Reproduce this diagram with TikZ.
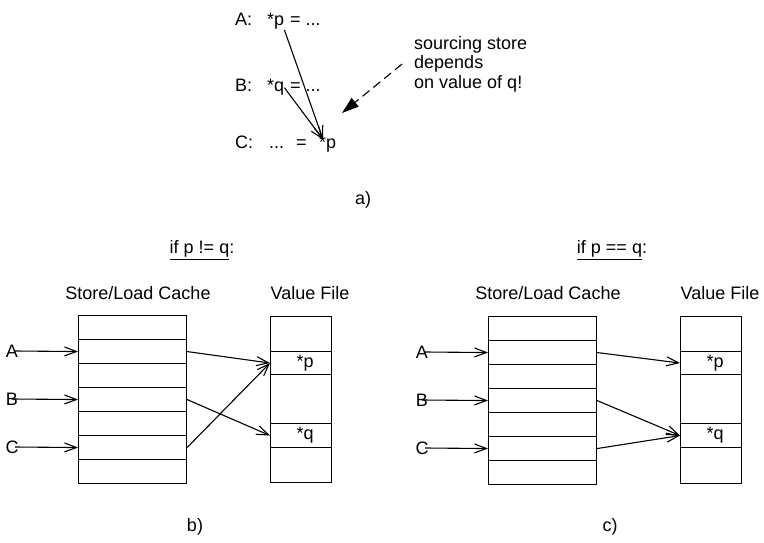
\documentclass[tikz,border=0pt]{standalone}
\usepackage{fontspec}
\setmainfont{Liberation Sans}
\usetikzlibrary{arrows.meta}
\begin{document}
\begin{tikzpicture}[x=1pt,y=-1pt,
  every node/.style={font=\fontsize{18}{19.5}\selectfont, inner sep=0pt},
  cell/.style={draw, line width=1.1pt, minimum width=108pt, minimum height=24pt, anchor=north west, inner sep=0pt},
  vcell/.style={draw, line width=1.1pt, minimum width=61pt, minimum height=#1, anchor=north west, inner sep=0pt},
  arr/.style={line width=1.1pt, -{Straight Barb[length=12pt,width=9pt,line width=1.1pt]}},
  dasharr/.style={line width=1.1pt, dash pattern=on 9pt off 5pt, -{Triangle[length=17pt,width=11pt]}},
  txt/.style={anchor=base west}
]
\useasboundingbox (0,0) rectangle (764,543);

% ---------- panel a ----------
\node[txt] (tA)  at (235,26) {A:};
\node[txt] (tAp) at (267,26) {*p};
\node[txt] (tAe) at (290,26) {= ...};
\node[txt] (tB)  at (235,92) {B:};
\node[txt] (tBq) at (267,92) {*q};
\node[txt] (tBe) at (290,92) {= ...};
\node[txt] (tC)  at (235,149) {C:};
\node[txt] (tCd) at (269,149) {...};
\node[txt] (tCe) at (296,149) {=};
\node[txt] (tCp) at (319,149) {*p};
\draw[arr] (tAp.south east) -- ([xshift=4pt,yshift=-3pt]tCp.north west);
\draw[arr] (tBq.east) -- ([xshift=4pt,yshift=-3pt]tCp.north west);
\node[anchor=north west, align=left] (note) at (414,36) {sourcing store\\depends\\on value of q!};
\coordinate (dtip) at (342,113);
\draw[dasharr] ([xshift=-12pt]note.west) -- (dtip);
\node (la) at (363,200) {a)};

% ---------- panel b ----------
\node (hb) at (202,250) {\underline{if p != q}:};
\node (slb) at (138,293) {Store/Load Cache};
\node (vfb) at (310,293) {Value File};
\foreach \i in {1,...,7} \node[cell] (bc\i) at (78,{315+(\i-1)*24}) {};
\node[vcell=35pt] (bv1) at (270,316) {};
\node[vcell=23pt] (bp)  at (270,351) {};
\node[vcell=49pt] (bv3) at (270,374) {};
\node[vcell=24pt] (bq)  at (270,423) {};
\node[vcell=35pt] (bv5) at (270,447) {};
\node at ([xshift=4pt]bp.center) {*p};
\node at ([xshift=4pt]bq.center) {*q};
\node (bA) at (12,351) {A};
\node (bB) at (12,399) {B};
\node (bC) at (12,447) {C};
\draw[arr] ([xshift=3pt]bA.center) -- (bc2.west);
\draw[arr] ([xshift=0pt]bB.center) -- (bc4.west);
\draw[arr] ([xshift=3pt]bC.center) -- (bc6.west);
\draw[arr] (bc2.east) -- (bp.west);
\draw[arr] (bc4.east) -- (bq.west);
\draw[arr] (bc6.east) -- (bp.west);
\node (lb) at (195,527) {b)};

% ---------- panel c ----------
\node (hc) at (612,250) {\underline{if p == q}:};
\node (slc) at (548,293) {Store/Load Cache};
\node (vfc) at (720,293) {Value File};
\foreach \i in {1,...,7} \node[cell] (cc\i) at (488,{316+(\i-1)*24}) {};
\node[vcell=35pt] (cv1) at (680,316) {};
\node[vcell=23pt] (cp)  at (680,351) {};
\node[vcell=49pt] (cv3) at (680,374) {};
\node[vcell=24pt] (cq)  at (680,423) {};
\node[vcell=36pt] (cv5) at (680,447) {};
\node at ([xshift=4pt]cp.center) {*p};
\node at ([xshift=4pt]cq.center) {*q};
\node (cA) at (422,352) {A};
\node (cB) at (422,400) {B};
\node (cC) at (422,448) {C};
\draw[arr] ([xshift=3pt]cA.center) -- (cc2.west);
\draw[arr] ([xshift=0pt]cB.center) -- (cc4.west);
\draw[arr] ([xshift=3pt]cC.center) -- (cc6.west);
\draw[arr] (cc2.east) -- (cp.west);
\draw[arr] (cc4.east) -- (cq.west);
\draw[arr] (cc6.east) -- (cq.west);
\node (lc) at (610,527) {c)};
\end{tikzpicture}
\end{document}
